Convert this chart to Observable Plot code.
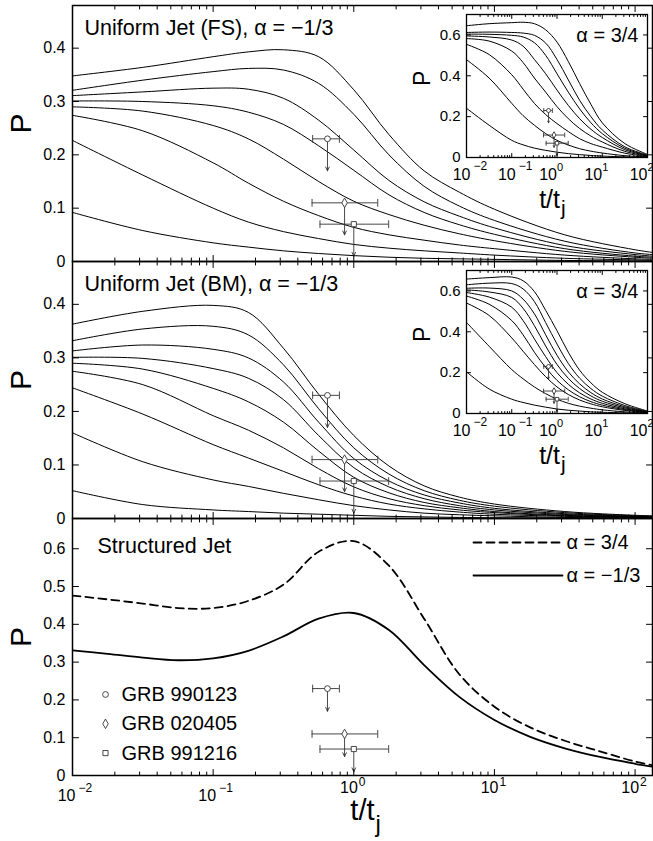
<!DOCTYPE html>
<html><head><meta charset="utf-8">
<script src="https://cdn.jsdelivr.net/npm/d3@7"></script>
<script src="https://cdn.jsdelivr.net/npm/@observablehq/plot@0.6"></script>
<style>
body{margin:0;background:#fff;}
#wrap{position:relative;width:653px;height:841px;overflow:hidden;background:#fff;}
#wrap svg{position:absolute;overflow:visible;}
</style></head><body><div id="wrap"></div>
<script>
const FONT = '"Liberation Sans", Arial, Helvetica, sans-serif';

// ---------- data ----------
// log10(t/tj) sample grid for the two uniform-jet panels
const mainLogT = [-2, -1.5, -1, -0.75, -0.5, -0.25, 0, 0.25, 0.5, 0.75, 1, 1.5, 2, 2.125];
const fsCurves = [
  [0.348,0.364,0.384,0.393,0.397,0.384,0.322,0.238,0.170,0.130,0.098,0.050,0.022,0.017],
  [0.321,0.340,0.356,0.362,0.359,0.334,0.276,0.200,0.141,0.104,0.077,0.038,0.016,0.013],
  [0.311,0.318,0.325,0.323,0.306,0.265,0.209,0.152,0.112,0.085,0.063,0.030,0.013,0.010],
  [0.301,0.300,0.292,0.280,0.257,0.217,0.171,0.125,0.092,0.069,0.051,0.024,0.010,0.008],
  [0.290,0.282,0.255,0.230,0.192,0.150,0.113,0.088,0.068,0.052,0.039,0.019,0.008,0.006],
  [0.274,0.245,0.185,0.147,0.113,0.086,0.064,0.050,0.040,0.031,0.024,0.012,0.005,0.004],
  [0.227,0.162,0.100,0.074,0.056,0.043,0.032,0.025,0.020,0.016,0.012,0.006,0.003,0.002],
  [0.092,0.058,0.035,0.027,0.020,0.015,0.011,0.008,0.006,0.005,0.004,0.002,0.001,0.001]
];
const bmCurves = [
  [0.363,0.387,0.398,0.385,0.318,0.232,0.155,0.098,0.061,0.040,0.027,0.013,0.006,0.005],
  [0.332,0.354,0.359,0.343,0.287,0.205,0.132,0.083,0.052,0.034,0.023,0.011,0.005,0.004],
  [0.313,0.324,0.316,0.300,0.255,0.180,0.112,0.070,0.044,0.029,0.019,0.009,0.004,0.003],
  [0.301,0.299,0.280,0.262,0.222,0.155,0.095,0.059,0.037,0.024,0.016,0.0075,0.0035,0.003],
  [0.290,0.279,0.243,0.218,0.180,0.126,0.077,0.048,0.030,0.020,0.013,0.006,0.003,0.0025],
  [0.275,0.250,0.192,0.165,0.132,0.093,0.059,0.037,0.024,0.016,0.011,0.005,0.0025,0.002],
  [0.244,0.195,0.138,0.113,0.088,0.063,0.042,0.027,0.018,0.012,0.008,0.004,0.002,0.0015],
  [0.160,0.106,0.072,0.060,0.047,0.035,0.024,0.016,0.010,0.007,0.005,0.002,0.001,0.001],
  [0.052,0.026,0.016,0.013,0.010,0.008,0.006,0.004,0.003,0.002,0.0015,0.001,0.0005,0.0005]
];
// insets (alpha = 3/4)
const insetLogT = [-2, -1.5, -1, -0.75, -0.5, -0.25, 0, 0.25, 0.5, 0.75, 1, 1.5, 2];
const fsInset = [
  [0.645,0.655,0.660,0.662,0.655,0.625,0.565,0.470,0.362,0.260,0.170,0.068,0.015],
  [0.612,0.614,0.612,0.609,0.598,0.560,0.480,0.380,0.280,0.200,0.135,0.052,0.012],
  [0.604,0.603,0.598,0.590,0.562,0.500,0.410,0.320,0.238,0.170,0.117,0.045,0.010],
  [0.595,0.590,0.575,0.545,0.480,0.410,0.330,0.255,0.190,0.138,0.098,0.038,0.009],
  [0.582,0.570,0.521,0.465,0.389,0.320,0.249,0.190,0.142,0.105,0.076,0.030,0.007],
  [0.554,0.504,0.405,0.335,0.265,0.210,0.166,0.127,0.092,0.068,0.051,0.021,0.005],
  [0.479,0.389,0.265,0.205,0.158,0.117,0.084,0.061,0.043,0.031,0.022,0.009,0.003],
  [0.241,0.158,0.084,0.062,0.046,0.035,0.026,0.019,0.014,0.010,0.007,0.003,0.001]
];
const bmInset = [
  [0.658,0.665,0.668,0.650,0.597,0.505,0.405,0.300,0.212,0.150,0.104,0.048,0.012],
  [0.630,0.638,0.636,0.610,0.548,0.445,0.340,0.245,0.173,0.122,0.085,0.039,0.010],
  [0.613,0.614,0.600,0.560,0.488,0.385,0.285,0.204,0.145,0.102,0.071,0.033,0.008],
  [0.605,0.595,0.568,0.515,0.430,0.330,0.240,0.172,0.122,0.086,0.060,0.028,0.007],
  [0.592,0.570,0.520,0.455,0.365,0.278,0.200,0.143,0.101,0.071,0.050,0.023,0.006],
  [0.575,0.535,0.455,0.385,0.300,0.225,0.162,0.116,0.082,0.058,0.041,0.019,0.005],
  [0.541,0.480,0.370,0.305,0.240,0.180,0.130,0.093,0.066,0.047,0.033,0.015,0.004],
  [0.446,0.329,0.215,0.170,0.130,0.097,0.070,0.050,0.036,0.026,0.018,0.008,0.002],
  [0.204,0.120,0.070,0.054,0.041,0.031,0.022,0.016,0.012,0.008,0.006,0.003,0.001]
];
// structured jet
const sjLogT = [-2,-1.75,-1.5,-1.25,-1,-0.75,-0.5,-0.25,0,0.25,0.5,0.75,1,1.25,1.5,1.75,2,2.125];
const sjDashed = [0.476,0.466,0.455,0.443,0.443,0.462,0.505,0.592,0.620,0.555,0.415,0.268,0.182,0.128,0.092,0.064,0.037,0.027];
const sjSolid  = [0.331,0.322,0.312,0.305,0.310,0.330,0.368,0.415,0.430,0.385,0.292,0.208,0.147,0.103,0.072,0.049,0.031,0.023];
// GRB upper limits
const grbNames = ["GRB 990123", "GRB 020405", "GRB 991216"];
const grbSymbols = ["circle", "diamond", "square"];
const grbT   = [0.65, 0.86, 1.0];
const grbP   = [0.23, 0.11, 0.07];
const grbTlo = [0.51, 0.505, 0.575];
const grbThi = [0.79, 1.48, 1.77];
const limitDrop = 0.06;
// ticks
const xMajor = [0.01, 0.1, 1, 10, 100];
const xExp = ["−2", "−1", "0", "1", "2"];
const yTicksUni = [0, 0.1, 0.2, 0.3, 0.4];
const yTicksSJ = [0, 0.1, 0.2, 0.3, 0.4, 0.5, 0.6];
const yTicksInset = [0, 0.2, 0.4, 0.6];
const X_DOMAIN = [0.01, 133];

// ---------- helpers ----------
const wrap = document.getElementById("wrap");
const CURVE = "catmull-rom";
const lineShape = {draw(context, l) { context.moveTo(0, 0); context.lineTo(0, -l); }};
const toRows = (grid, curves) => curves.flatMap((vals, i) => vals.map((P, j) => ({t: 10 ** grid[j], P, id: i})));
const minorTicks = (max) => { const a = []; for (let e = -2; e <= 2; e++) for (let m = 2; m <= 9; m++) { const v = m * 10 ** e; if (v <= max) a.push(v); } return a; };
const yFmt = d => d === 0 ? "0" : d.toFixed(1);
const grb = grbNames.map((name, i) => ({name, t: grbT[i], P: grbP[i], lo: grbTlo[i], hi: grbThi[i], Plim: grbP[i] - limitDrop}));
const xLab = xMajor.map((v, i) => ({v, e: xExp[i], neg: xExp[i].startsWith("−")}));

function boxTicks(xMin, yTicks, major, minor) {
  const s = {stroke: "black", strokeWidth: 1, shape: lineShape, anchor: "start"};
  return [
    Plot.vector(xMajor, {x: d => d, frameAnchor: "bottom", length: major, rotate: 0, ...s}),
    Plot.vector(xMin, {x: d => d, frameAnchor: "bottom", length: minor, rotate: 0, ...s}),
    Plot.vector(xMajor, {x: d => d, frameAnchor: "top", length: major, rotate: 180, ...s}),
    Plot.vector(xMin, {x: d => d, frameAnchor: "top", length: minor, rotate: 180, ...s}),
    Plot.vector(yTicks, {y: d => d, frameAnchor: "left", length: major, rotate: 90, ...s}),
    Plot.vector(yTicks, {y: d => d, frameAnchor: "right", length: major, rotate: -90, ...s})
  ];
}
function grbMarks(r, cap, head) {
  const c = {stroke: "#333", strokeWidth: 0.9};
  return [
    Plot.ruleY(grb, {x1: "lo", x2: "hi", y: "P", ...c}),
    Plot.vector(grb, {x: "lo", y: "P", length: cap, anchor: "middle", shape: lineShape, ...c}),
    Plot.vector(grb, {x: "hi", y: "P", length: cap, anchor: "middle", shape: lineShape, ...c}),
    Plot.arrow(grb, {x: "t", y1: "P", y2: "Plim", headLength: head, headAngle: 50, ...c}),
    Plot.dot(grb, {x: "t", y: "P", symbol: "name", r, fill: "white", ...c})
  ];
}
function place(svg, left, top) { svg.style.left = left + "px"; svg.style.top = top + "px"; wrap.append(svg); }

function mainPanel({top, height, marginBottom, yDomain, yTicks, marks}) {
  const svg = Plot.plot({
    width: 653, height, marginTop: 5, marginBottom, marginLeft: 72, marginRight: 1,
    x: {type: "log", domain: X_DOMAIN, axis: null},
    y: {domain: yDomain, axis: null},
    symbol: {domain: grbNames, range: grbSymbols},
    clip: true,
    style: {background: "transparent", overflow: "visible", fontFamily: FONT, color: "black"},
    marks: [
      ...marks,
      ...boxTicks(minorTicks(X_DOMAIN[1]), yTicks, 6, 3.5),
      Plot.text(yTicks, {y: d => d, text: yFmt, frameAnchor: "left", textAnchor: "end", dx: -7, fontSize: 16, fontFamily: FONT, clip: false}),
      Plot.text(["P"], {frameAnchor: "left", dx: -51, rotate: -90, fontSize: 30, fontFamily: FONT, clip: false}),
      Plot.frame({stroke: "black", strokeWidth: 1.5, clip: false})
    ]
  });
  place(svg, 0, top);
}

function insetPanel({top, curves}) {
  const svg = Plot.plot({
    width: 253, height: 225, marginTop: 14, marginBottom: 68, marginLeft: 66, marginRight: 6,
    x: {type: "log", domain: [0.01, 100], axis: null},
    y: {domain: [0, 0.7], axis: null},
    symbol: {domain: grbNames, range: grbSymbols},
    style: {background: "transparent", overflow: "visible", fontFamily: FONT, color: "black"},
    marks: [
      Plot.frame({fill: "white"}),
      Plot.line(toRows(insetLogT, curves), {x: "t", y: "P", z: "id", stroke: "black", strokeWidth: 1, curve: CURVE, clip: true}),
      ...grbMarks(2, 4, 3),
      ...boxTicks(minorTicks(100), yTicksInset, 4, 2),
      Plot.text(yTicksInset, {y: d => d, text: yFmt, frameAnchor: "left", textAnchor: "end", dx: -6, fontSize: 15, fontFamily: FONT}),
      Plot.text(xLab.filter(d => d.neg), {x: "v", text: () => "10", frameAnchor: "bottom", textAnchor: "end", lineAnchor: "bottom", dx: 4, dy: 22, fontSize: 16, fontFamily: FONT}),
      Plot.text(xLab.filter(d => d.neg), {x: "v", text: "e", frameAnchor: "bottom", textAnchor: "start", lineAnchor: "bottom", dx: 7, dy: 12, fontSize: 12, fontFamily: FONT}),
      Plot.text(xLab.filter(d => !d.neg), {x: "v", text: () => "10", frameAnchor: "bottom", textAnchor: "end", lineAnchor: "bottom", dx: 0, dy: 22, fontSize: 16, fontFamily: FONT}),
      Plot.text(xLab.filter(d => !d.neg), {x: "v", text: "e", frameAnchor: "bottom", textAnchor: "start", lineAnchor: "bottom", dx: 0, dy: 13, fontSize: 11, fontFamily: FONT}),
      Plot.text(["P"], {frameAnchor: "left", dx: -44, rotate: -90, fontSize: 23, fontFamily: FONT}),
      Plot.text(["t/t"], {frameAnchor: "bottom", textAnchor: "end", lineAnchor: "bottom", dx: 3, dy: 50, fontSize: 25, fontFamily: FONT}),
      Plot.text(["j"], {frameAnchor: "bottom", textAnchor: "start", lineAnchor: "bottom", dx: 4, dy: 57, fontSize: 21, fontFamily: FONT}),
      Plot.text(["α = 3/4"], {frameAnchor: "top-right", textAnchor: "end", lineAnchor: "top", dx: -9, dy: 13, fontSize: 20, fontFamily: FONT}),
      Plot.frame({stroke: "black", strokeWidth: 1.3})
    ]
  });
  place(svg, 400, top);
}

// ---------- panels ----------
mainPanel({
  top: 0, height: 262, marginBottom: 1, yDomain: [0, 0.48], yTicks: yTicksUni,
  marks: [
    Plot.line(toRows(mainLogT, fsCurves), {x: "t", y: "P", z: "id", stroke: "black", strokeWidth: 1, curve: CURVE}),
    ...grbMarks(2.9, 7, 7),
    Plot.text(["Uniform Jet (FS), α = −1/3"], {frameAnchor: "top-left", textAnchor: "start", lineAnchor: "top", dx: 12, dy: 14, fontSize: 21.5, fontFamily: FONT})
  ]
});
mainPanel({
  top: 256, height: 263, marginBottom: 1, yDomain: [0, 0.48], yTicks: yTicksUni,
  marks: [
    Plot.line(toRows(mainLogT, bmCurves), {x: "t", y: "P", z: "id", stroke: "black", strokeWidth: 1, curve: CURVE}),
    ...grbMarks(2.9, 7, 7),
    Plot.text(["Uniform Jet (BM), α = −1/3"], {frameAnchor: "top-left", textAnchor: "start", lineAnchor: "top", dx: 12, dy: 14, fontSize: 21.5, fontFamily: FONT})
  ]
});
const sjRows = [
  ...sjLogT.map((lt, i) => ({t: 10 ** lt, P: sjDashed[i], alpha: "α = 3/4"})),
  ...sjLogT.map((lt, i) => ({t: 10 ** lt, P: sjSolid[i], alpha: "α = −1/3"}))
];
mainPanel({
  top: 513, height: 328, marginBottom: 66, yDomain: [0, 0.68], yTicks: yTicksSJ,
  marks: [
    Plot.line(sjRows.filter(d => d.alpha === "α = 3/4"), {x: "t", y: "P", stroke: "black", strokeWidth: 1.8, strokeDasharray: "8,5", curve: CURVE}),
    Plot.line(sjRows.filter(d => d.alpha === "α = −1/3"), {x: "t", y: "P", stroke: "black", strokeWidth: 1.8, curve: CURVE}),
    ...grbMarks(2.9, 7, 7),
    Plot.text(["Structured Jet"], {frameAnchor: "top-left", textAnchor: "start", lineAnchor: "top", dx: 25, dy: 19, fontSize: 21.5, fontFamily: FONT}),
    // line legend
    Plot.vector([0], {frameAnchor: "top-right", dx: -179, dy: 24, rotate: 90, length: 89, anchor: "start", shape: lineShape, stroke: "black", strokeWidth: 1.8, strokeDasharray: "8,5"}),
    Plot.text(["α = 3/4"], {frameAnchor: "top-right", textAnchor: "start", lineAnchor: "middle", dx: -86, dy: 24, fontSize: 20, fontFamily: FONT}),
    Plot.vector([0], {frameAnchor: "top-right", dx: -179, dy: 57, rotate: 90, length: 89, anchor: "start", shape: lineShape, stroke: "black", strokeWidth: 1.8}),
    Plot.text(["α = −1/3"], {frameAnchor: "top-right", textAnchor: "start", lineAnchor: "middle", dx: -86, dy: 57, fontSize: 20, fontFamily: FONT}),
    // marker legend
    ...grbNames.flatMap((name, i) => [
      Plot.dot([name], {symbol: d => d, frameAnchor: "top-left", dx: 33, dy: 176 + i * 29.3, r: 2.9, fill: "white", stroke: "#333", strokeWidth: 0.9}),
      Plot.text([name], {frameAnchor: "top-left", textAnchor: "start", lineAnchor: "middle", dx: 49, dy: 176 + i * 29.3, fontSize: 20, fontFamily: FONT})
    ]),
    // x tick labels
    Plot.text(xLab.filter(d => d.neg), {x: "v", text: () => "10", frameAnchor: "bottom", textAnchor: "end", lineAnchor: "bottom", dx: 3, dy: 25, fontSize: 16, fontFamily: FONT, clip: false}),
    Plot.text(xLab.filter(d => d.neg), {x: "v", text: "e", frameAnchor: "bottom", textAnchor: "start", lineAnchor: "bottom", dx: 6, dy: 16, fontSize: 12, fontFamily: FONT, clip: false}),
    Plot.text(xLab.filter(d => !d.neg), {x: "v", text: () => "10", frameAnchor: "bottom", textAnchor: "end", lineAnchor: "bottom", dx: 4, dy: 17, fontSize: 16, fontFamily: FONT, clip: false}),
    Plot.text(xLab.filter(d => !d.neg), {x: "v", text: "e", frameAnchor: "bottom", textAnchor: "start", lineAnchor: "bottom", dx: 5, dy: 10, fontSize: 12, fontFamily: FONT, clip: false}),
    Plot.text(["t/t"], {frameAnchor: "bottom", textAnchor: "end", lineAnchor: "bottom", dx: 12, dy: 44, fontSize: 29, fontFamily: FONT, clip: false}),
    Plot.text(["j"], {frameAnchor: "bottom", textAnchor: "start", lineAnchor: "bottom", dx: 13, dy: 56, fontSize: 24, fontFamily: FONT, clip: false})
  ]
});
insetPanel({top: 0, curves: fsInset});
insetPanel({top: 256, curves: bmInset});
</script></body></html>
